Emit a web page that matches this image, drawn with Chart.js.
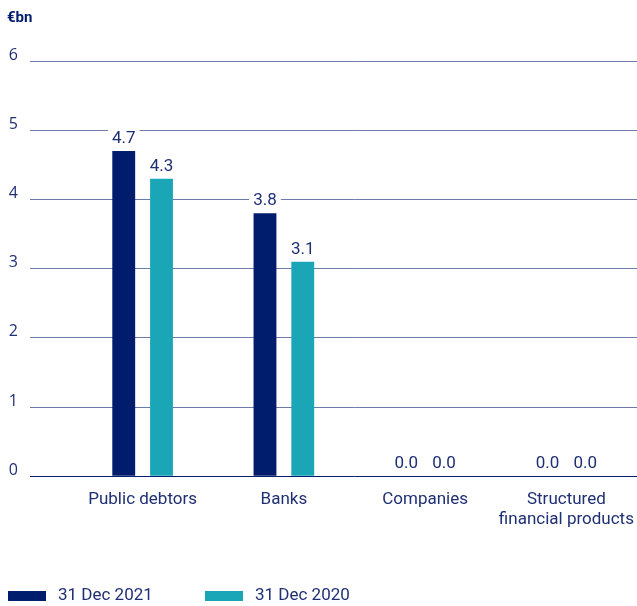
<!DOCTYPE html>
<html>
<head>
<meta charset="utf-8">
<script src="https://cdn.jsdelivr.net/npm/chart.js@4/dist/chart.umd.min.js"></script>
<style>
  body { margin: 0; background: #fff; }
  #wrap { width: 637px; height: 606px; position: relative; }
</style>
</head>
<body>
<div id="wrap"><canvas id="chart"></canvas></div>
<script>
const categories = ['Public debtors', 'Banks', 'Companies', ['Structured', 'financial products']];
const seriesNames = ['31 Dec 2021', '31 Dec 2020'];
const values2021 = [4.7, 3.8, 0.0, 0.0];
const values2020 = [4.3, 3.1, 0.0, 0.0];
const yTicks = [0, 1, 2, 3, 4, 5, 6];
const unitLabel = '€bn';

const navy = '#001c6c';
const teal = '#1ba6b8';
const textColor = '#1f2f74';
const gridColor = '#6d7bab';

// value labels above bars, with a white patch behind them
const valueLabels = {
    id: 'valueLabels',
    afterDatasetsDraw(chart) {
        const ctx = chart.ctx;
        ctx.save();
        ctx.font = '17px Roboto';
        ctx.textAlign = 'center';
        ctx.textBaseline = 'alphabetic';
        chart.data.datasets.forEach((ds, i) => {
            chart.getDatasetMeta(i).data.forEach((bar, j) => {
                const txt = ds.data[j].toFixed(1);
                const w = ctx.measureText(txt).width;
                const yb = bar.y - 8;
                ctx.fillStyle = '#fff';
                ctx.fillRect(bar.x - w / 2 - 4, yb - 16, w + 8, 19);
                ctx.fillStyle = textColor;
                ctx.fillText(txt, bar.x, yb);
            });
        });
        ctx.restore();
    }
};

// unit title and the legend strip at the bottom
const extras = {
    id: 'extras',
    afterDraw(chart) {
        const ctx = chart.ctx;
        ctx.save();
        ctx.fillStyle = navy;
        ctx.font = 'bold 15px Roboto';
        ctx.textBaseline = 'middle';
        ctx.fillText(unitLabel, 7, 18);

        const y = 596;
        const xs = [8, 205];
        ctx.font = '17px Roboto';
        chart.data.datasets.forEach((ds, i) => {
            ctx.fillStyle = ds.backgroundColor;
            ctx.fillRect(xs[i], y - 5, 38, 10);
            ctx.fillStyle = textColor;
            ctx.fillText(ds.label, xs[i] + 50, y);
        });
        ctx.restore();
    }
};

new Chart(document.getElementById('chart'), {
    type: 'bar',
    data: {
        labels: categories,
        datasets: [{
            label: seriesNames[0],
            data: values2021,
            backgroundColor: navy,
            categoryPercentage: 0.535,
            barPercentage: 0.605,
        }, {
            label: seriesNames[1],
            data: values2020,
            backgroundColor: teal,
            categoryPercentage: 0.535,
            barPercentage: 0.605,
        }],
    },
    options: {
        responsive: true,
        maintainAspectRatio: false,
        animation: false,
        layout: {
            padding: { top: 61, left: 9, right: 0, bottom: 71 }
        },
        scales: {
            x: {
                grid: { display: false },
                border: { display: false },
                afterFit(axis) {
                    axis.paddingLeft = 0;
                    axis.paddingRight = 0;
                },
                ticks: {
                    color: textColor,
                    font: { family: 'Roboto', size: 17 },
                    padding: 5,
                    maxRotation: 0,
                    autoSkip: false,
                },
            },
            y: {
                min: yTicks[0],
                max: yTicks[yTicks.length - 1],
                afterBuildTicks(axis) {
                    axis.ticks = yTicks.map(v => ({ value: v }));
                },
                afterFit(axis) {
                    axis.width = 63;
                },
                border: { display: false },
                grid: {
                    color: c => c.tick && c.tick.value === 0 ? navy : gridColor,
                    lineWidth: 1,
                    tickLength: 42,
                    tickColor: c => c.tick && c.tick.value === 0 ? navy : gridColor,
                },
                ticks: {
                    color: textColor,
                    font: { family: 'Open Sans', size: 16 },
                    padding: 12,
                    labelOffset: -6,
                },
            },
        },
        plugins: {
            legend: { display: false },
            tooltip: { enabled: false },
        },
    },
    plugins: [valueLabels, extras],
});
</script>
</body>
</html>
